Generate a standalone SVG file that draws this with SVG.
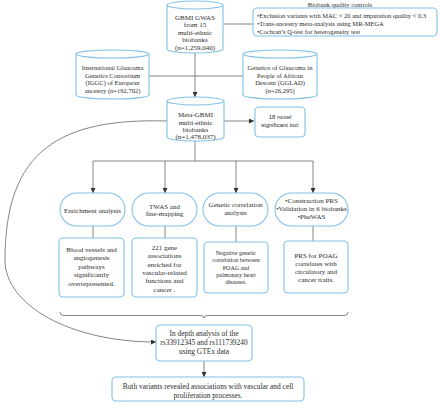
<svg xmlns="http://www.w3.org/2000/svg" width="440" height="405" viewBox="0 0 440 405">
<defs>
<marker id="arr" viewBox="0 0 10 10" refX="10" refY="5" markerWidth="6" markerHeight="5" markerUnits="userSpaceOnUse" orient="auto">
<path d="M0,0 L10,5 L0,10 z" fill="#333"/>
</marker>
</defs>
<style>
.shape{fill:#fff;stroke:#80c0e6;stroke-width:1.1}
.ln{fill:none;stroke:#777;stroke-width:0.9}
.la{fill:none;stroke:#777;stroke-width:0.9;marker-end:url(#arr)}
text{font-family:"Liberation Serif","Times New Roman",serif;font-size:7px;fill:#2b2b2b;text-anchor:middle}
.m{font-size:7.4px}
.s{font-size:6.5px}
.xs{font-size:6px}
.sans{font-family:"Liberation Sans",Arial,sans-serif;font-size:6px}
.l{text-anchor:start}
</style>
<rect width="440" height="405" fill="#fff"/>
<g id="connectors">
<line class="ln" x1="149" y1="76" x2="243" y2="76"/>
<line class="ln" x1="223" y1="24" x2="253" y2="24"/>
<line class="la" x1="195" y1="53" x2="195" y2="97"/>
<line class="la" x1="224" y1="121" x2="254" y2="121"/>
<line class="ln" x1="195" y1="141" x2="195" y2="161"/>
<line class="ln" x1="93" y1="161" x2="313" y2="161"/>
<line class="la" x1="93" y1="161" x2="93" y2="193"/>
<line class="la" x1="165" y1="161" x2="165" y2="193"/>
<line class="la" x1="236" y1="161" x2="236" y2="193"/>
<line class="la" x1="313" y1="161" x2="313" y2="193"/>
<line class="ln" x1="93" y1="226" x2="93" y2="238"/>
<line class="ln" x1="165" y1="226" x2="165" y2="238"/>
<line class="ln" x1="236" y1="226" x2="236" y2="242"/>
<line class="ln" x1="313" y1="226" x2="313" y2="241"/>
<path class="ln" d="M60,312 q0,3.5 4,3.5 H200 q4,0 4,2.5 q0,-2.5 4,-2.5 H344 q4,0 4,-3.5"/>
<path class="la" d="M167,121 C60,118 5,150 5,260 C5,305 70,342 156,342"/>
<line class="la" x1="204" y1="361" x2="204" y2="377"/>
</g>
<g id="gbmi">
<path class="shape" d="M167,5 a28,4 0 0 1 56,0 v44 a28,4 0 0 1 -56,0 z M167,5 a28,4 0 0 0 56,0"/>
<text x="195" y="19.5">GBMI GWAS</text>
<text x="195" y="27">from 15</text>
<text x="195" y="34.5">multi-ethnic</text>
<text x="195" y="42">biobanks</text>
<text x="195" y="50">(n=1,259,040)</text>
</g>
<g id="quality">
<text class="s" x="340" y="7.3">Biobank quality controls</text>
<rect class="shape" x="253" y="8" width="184" height="28" rx="4"/>
<text class="s l" x="257" y="18.3">•Exclusion variants with MAC &lt; 20 and imputation quality &lt; 0.3</text>
<text class="s l" x="257" y="26.3">•Trans-ancestry meta-analysis using MR-MEGA</text>
<text class="s l" x="257" y="34.3">•Cochran’s Q-test for heterogeneity test</text>
</g>
<g id="iggc">
<path class="shape" d="M76,54 a36.5,4 0 0 1 73,0 v41 a36.5,4 0 0 1 -73,0 z M76,54 a36.5,4 0 0 0 73,0"/>
<text class="s" x="112.5" y="70.3">International Glaucoma</text>
<text class="s" x="112.5" y="78">Genetics Consortium</text>
<text class="s" x="112.5" y="85.3">(IGGC) of European</text>
<text class="s" x="112.5" y="92.5">ancestry (n=192,702)</text>
</g>
<g id="gglad">
<path class="shape" d="M243,54 a37,4 0 0 1 74,0 v41 a37,4 0 0 1 -74,0 z M243,54 a37,4 0 0 0 74,0"/>
<text class="s" x="280" y="70.3">Genetics of Glaucoma in</text>
<text class="s" x="280" y="78">People of African</text>
<text class="s" x="280" y="85.3">Descent (GGLAD)</text>
<text class="s" x="280" y="92.5">(n=26,295)</text>
</g>
<g id="meta">
<path class="shape" d="M167,101 a28.5,4 0 0 1 57,0 v36 a28.5,4 0 0 1 -57,0 z M167,101 a28.5,4 0 0 0 57,0"/>
<text x="195.5" y="116.5">Meta-GBMI</text>
<text x="195.5" y="124.5">multi-ethnic</text>
<text x="195.5" y="131.5">biobanks</text>
<text x="195.5" y="139.3">(n=1,478,037)</text>
</g>
<g id="loci">
<rect class="shape" x="255" y="107" width="50" height="30" rx="4"/>
<text class="sans" x="280" y="119">18 novel</text>
<text class="sans" x="280" y="126.5">significant loci</text>
</g>
<g id="enrichment">
<rect class="shape" x="60" y="193" width="65" height="33" rx="16.5"/>
<text x="92.5" y="212.5">Enrichment analysis</text>
</g>
<g id="twas">
<rect class="shape" x="132" y="193" width="65" height="33" rx="16.5"/>
<text x="164.5" y="208.5">TWAS and</text>
<text x="164.5" y="216">fine-mapping</text>
</g>
<g id="gencor">
<rect class="shape" x="203" y="193" width="65" height="33" rx="16.5"/>
<text x="235.5" y="206.5">Genetic correlation</text>
<text x="235.5" y="214.5">analysis</text>
</g>
<g id="prs">
<rect class="shape" x="275" y="193" width="73" height="33" rx="16.5"/>
<text x="311.5" y="202.5">•Construction PRS</text>
<text x="311.5" y="210.5">•Validation in 6 biobanks</text>
<text x="311.5" y="218.5">•PheWAS</text>
</g>
<g id="res1">
<rect class="shape" x="59" y="238" width="65" height="59" rx="4"/>
<text x="91.5" y="251.5">Blood vessels and</text>
<text x="91.5" y="260">angiogenesis</text>
<text x="91.5" y="268.5">pathways</text>
<text x="91.5" y="277">significantly</text>
<text x="91.5" y="285.5">overrepresented.</text>
</g>
<g id="res2">
<rect class="shape" x="132" y="238" width="65" height="59" rx="4"/>
<text x="164.5" y="249.5">221 gene</text>
<text x="164.5" y="258">associations</text>
<text x="164.5" y="266.5">enriched for</text>
<text x="164.5" y="274.8">vascular-related</text>
<text x="164.5" y="283.3">functions and</text>
<text x="164.5" y="291.6">cancer .</text>
</g>
<g id="res3">
<rect class="shape" x="204" y="242" width="64" height="51" rx="4"/>
<text class="xs" x="236" y="255">Negative genetic</text>
<text class="xs" x="236" y="262.3">correlation between</text>
<text class="xs" x="236" y="269.6">POAG and</text>
<text class="xs" x="236" y="277">pulmonary heart</text>
<text class="xs" x="236" y="284.3">diseases.</text>
</g>
<g id="res4">
<rect class="shape" x="284" y="241" width="64" height="52" rx="4"/>
<text x="316" y="257.5">PRS for POAG</text>
<text x="316" y="265.5">correlates with</text>
<text x="316" y="273.5">circulatory and</text>
<text x="316" y="281.5">cancer traits.</text>
</g>
<g id="indepth">
<rect class="shape" x="156" y="325" width="96" height="36" rx="4"/>
<text class="m" x="204" y="335.7">In depth analysis of the</text>
<text class="m" x="204" y="344.7">rs33912345 and rs111739240</text>
<text class="m" x="204" y="353.7">using GTEx data</text>
</g>
<g id="final">
<rect class="shape" x="112" y="377" width="192" height="24" rx="4"/>
<text class="m" x="208" y="388.7">Both variants revealed associations with vascular and cell</text>
<text class="m" x="208" y="397.7">proliferation processes.</text>
</g>
</svg>
